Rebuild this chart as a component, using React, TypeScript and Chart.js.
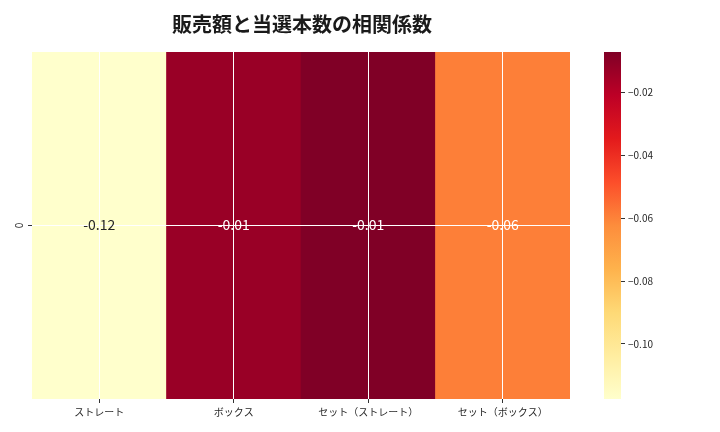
import { useEffect, useRef } from "react"
import { Chart, registerables } from "chart.js"

Chart.register(...registerables)

const FONT = "'Noto Sans CJK JP', 'Noto Sans', sans-serif"

const categories = ["ストレート", "ボックス", "セット（ストレート）", "セット（ボックス）"]
const rowLabels = ["0"]
const corrValues = [-0.1175, -0.0128, -0.0071, -0.0592]
const colorbarTicks = [-0.02, -0.04, -0.06, -0.08, -0.1]

// matplotlib YlOrRd
const palette = ["#ffffcc", "#ffeda0", "#fed976", "#feb24c", "#fd8d3c", "#fc4e2a", "#e31a1c", "#bd0026", "#800026"]

const vmin = Math.min(...corrValues)
const vmax = Math.max(...corrValues)

function hexToRgb(h: string) {
  return [1, 3, 5].map((i) => parseInt(h.slice(i, i + 2), 16))
}

function colorFor(v: number) {
  const t = Math.max(0, Math.min(1, (v - vmin) / (vmax - vmin)))
  const pos = t * (palette.length - 1)
  const i = Math.min(palette.length - 2, Math.floor(pos))
  const f = pos - i
  const a = hexToRgb(palette[i])
  const b = hexToRgb(palette[i + 1])
  const c = a.map((x, k) => Math.round(x + (b[k] - x) * f))
  return `rgb(${c[0]}, ${c[1]}, ${c[2]})`
}

function textColorFor(v: number) {
  const [r, g, b] = colorFor(v).match(/\d+/g)!.map(Number)
  const lum = 0.2126 * r + 0.7152 * g + 0.0722 * b
  return lum > 150 ? "#262626" : "#ffffff"
}

export default function App() {
  const heatRef = useRef<HTMLCanvasElement>(null)
  const barRef = useRef<HTMLCanvasElement>(null)

  useEffect(() => {
    document.body.style.margin = "0"
    if (!heatRef.current || !barRef.current) return
    Chart.defaults.font.family = FONT

    const cellLabels = {
      id: "cellLabels",
      afterDraw(chart: Chart) {
        const ctx = chart.ctx
        const meta = chart.getDatasetMeta(0)
        const yScale = chart.scales.y
        ctx.save()
        ctx.font = `14px ${FONT}`
        ctx.textAlign = "center"
        ctx.textBaseline = "middle"
        meta.data.forEach((el: any, i: number) => {
          ctx.fillStyle = textColorFor(corrValues[i])
          ctx.fillText(corrValues[i].toFixed(2), el.x, yScale.getPixelForValue(0) - 0.5)
        })
        // rotated row label
        ctx.font = `10px ${FONT}`
        ctx.fillStyle = "#262626"
        rowLabels.forEach((lab, r) => {
          ctx.save()
          ctx.translate(19, yScale.getPixelForValue(r))
          ctx.rotate(-Math.PI / 2)
          ctx.fillText(lab, 0, 0)
          ctx.restore()
        })
        ctx.restore()
      },
    }

    const heat = new Chart(heatRef.current, {
      type: "bar",
      data: {
        labels: categories,
        datasets: [
          {
            data: corrValues.map(() => [-0.5, 0.5]) as any,
            backgroundColor: corrValues.map(colorFor),
            borderWidth: 0,
            barPercentage: 1,
            categoryPercentage: 1,
          },
        ],
      },
      options: {
        animation: false,
        responsive: false,
        layout: { padding: { right: 116 } },
        plugins: {
          legend: { display: false },
          tooltip: { enabled: false },
          title: {
            display: true,
            text: "販売額と当選本数の相関係数",
            color: "#1a1a1a",
            font: { size: 20, weight: "bold", family: FONT },
            padding: { top: 12, bottom: 16 },
          },
        },
        scales: {
          x: {
            offset: true,
            grid: { offset: false, color: "#ffffff", lineWidth: 1, z: 1, tickColor: "#333333", tickLength: 4 },
            border: { display: false },
            ticks: { color: "#262626", font: { size: 10 }, padding: 3, maxRotation: 0 },
            afterFit: (s: any) => {
              s.height = 33
            },
          },
          y: {
            type: "linear",
            min: -0.5,
            max: 0.5,
            reverse: true,
            grid: { color: "#ffffff", lineWidth: 1, z: 1, tickColor: "#333333", tickLength: 4 },
            border: { display: false },
            ticks: { display: false },
            afterBuildTicks: (s: any) => {
              s.ticks = rowLabels.map((_, i) => ({ value: i }))
            },
            afterFit: (s: any) => {
              s.width = 32
            },
          },
          // empty spacer so the plot ends at 570 while the title stays centred over the axes
          spacer: {
            type: "linear",
            position: "right",
            grid: { display: false },
            border: { display: false },
            ticks: { display: false },
            afterFit: (s: any) => {
              s.width = 34
            },
          },
        },
      },
      plugins: [cellLabels],
    })

    const bar = new Chart(barRef.current, {
      type: "bar",
      data: {
        labels: ["cb"],
        datasets: [
          {
            data: [[vmin, vmax]] as any,
            borderWidth: 0,
            barPercentage: 1,
            categoryPercentage: 1,
            backgroundColor: (c: any) => {
              const area = c.chart.chartArea
              if (!area) return palette[4]
              const g = c.chart.ctx.createLinearGradient(0, area.bottom, 0, area.top)
              palette.forEach((p, i) => g.addColorStop(i / (palette.length - 1), p))
              return g
            },
          },
        ],
      },
      options: {
        animation: false,
        responsive: false,
        layout: { padding: { left: 14, top: 52, bottom: 33 } },
        plugins: { legend: { display: false }, tooltip: { enabled: false } },
        scales: {
          x: { display: false },
          y: {
            position: "right",
            min: vmin,
            max: vmax,
            border: { display: false },
            grid: { drawOnChartArea: false, tickColor: "#333333", tickLength: 4 },
            ticks: {
              color: "#262626",
              font: { size: 10 },
              padding: 3,
              callback: (v: any) => (Number(v) < 0 ? "\u2212" : "") + Math.abs(Number(v)).toFixed(2),
            },
            afterBuildTicks: (s: any) => {
              s.ticks = colorbarTicks.map((v) => ({ value: v }))
            },
            afterFit: (s: any) => {
              s.width = 99
            },
          },
        },
      },
    })

    return () => {
      heat.destroy()
      bar.destroy()
    }
  }, [])

  return (
    <div style={{ position: "relative", width: 720, height: 432, background: "#fff" }}>
      <canvas ref={heatRef} width={720} height={432} style={{ position: "absolute", left: 0, top: 0 }} />
      <canvas ref={barRef} width={130} height={432} style={{ position: "absolute", left: 590, top: 0 }} />
    </div>
  )
}
